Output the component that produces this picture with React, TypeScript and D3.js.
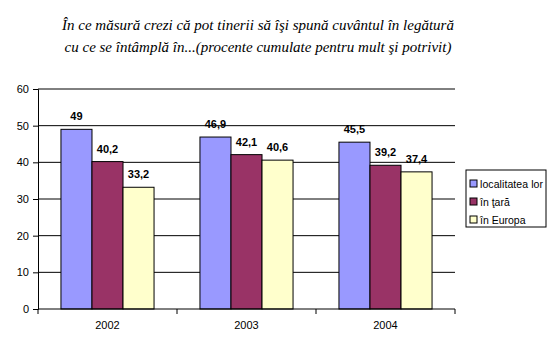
import React, { useEffect, useRef } from 'react';
import * as d3 from 'd3';

const years = ['2002', '2003', '2004'];
const seriesNames = ['localitatea lor', 'în ţară', 'în Europa'];
const localitate = [49, 46.9, 45.5];
const tara = [40.2, 42.1, 39.2];
const europa = [33.2, 40.6, 37.4];
const yTicks = [0, 10, 20, 30, 40, 50, 60];
const colors = ['#9999FF', '#993366', '#FFFFCC'];
const titleLines = [
  'În ce măsură crezi că pot tinerii să îşi spună cuvântul în legătură',
  'cu ce se întâmplă în...(procente cumulate pentru mult şi potrivit)',
];

const App = () => {
  const ref = useRef<SVGSVGElement>(null);

  useEffect(() => {
    const svg = d3.select(ref.current);
    svg.selectAll('*').remove();

    const left = 38, right = 455, top = 89, bottom = 309;
    const series = [localitate, tara, europa];

    svg.selectAll('text.title')
      .data(titleLines)
      .enter()
      .append('text')
      .attr('class', 'title')
      .attr('x', 258)
      .attr('y', (_, i) => 30 + i * 22)
      .attr('text-anchor', 'middle')
      .style('font-family', '"Liberation Serif", serif')
      .style('font-style', 'italic')
      .style('font-size', '15px')
      .text((d) => d);

    const x = d3.scaleBand().domain(years).range([left, right]);
    const y = d3.scaleLinear().domain([0, 60]).range([bottom, top]);
    const inner = d3.scaleBand()
      .domain(seriesNames)
      .range([0, x.bandwidth()])
      .paddingOuter(0.74);

    // gridlines
    svg.append('g')
      .selectAll('line')
      .data(yTicks.filter((t) => t > 0))
      .enter()
      .append('line')
      .attr('x1', left)
      .attr('x2', right)
      .attr('y1', (d) => y(d))
      .attr('y2', (d) => y(d))
      .attr('stroke', '#000');

    // bars
    series.forEach((vals, si) => {
      const g = svg.append('g');
      g.selectAll('rect')
        .data(vals)
        .enter()
        .append('rect')
        .attr('x', (_, i) => x(years[i])! + inner(seriesNames[si])!)
        .attr('y', (d) => y(d))
        .attr('width', inner.bandwidth())
        .attr('height', (d) => bottom - y(d))
        .attr('fill', colors[si])
        .attr('stroke', '#000')
        .attr('stroke-width', 1);
      g.selectAll('text')
        .data(vals)
        .enter()
        .append('text')
        .attr('x', (_, i) => x(years[i])! + inner(seriesNames[si])! + inner.bandwidth() / 2)
        .attr('y', (d) => y(d) - 9)
        .attr('text-anchor', 'middle')
        .style('font-family', '"Liberation Sans", Arial, sans-serif')
        .style('font-size', '11px')
        .style('font-weight', 'bold')
        .text((d) => String(d).replace('.', ','));
    });

    // y axis
    const yAxis = svg.append('g')
      .attr('transform', `translate(${left},0)`)
      .call(d3.axisLeft(y).tickValues(yTicks).tickSize(5).tickPadding(4));
    yAxis.select('.domain').attr('stroke', '#000');
    yAxis.selectAll('text')
      .style('font-family', '"Liberation Sans", Arial, sans-serif')
      .style('font-size', '11px');

    // x axis
    const xAxis = svg.append('g').attr('transform', `translate(0,${bottom})`);
    xAxis.append('line')
      .attr('x1', left)
      .attr('x2', right)
      .attr('stroke', '#000');
    xAxis.selectAll('line.tick')
      .data([...years.map((yr) => x(yr)!), right])
      .enter()
      .append('line')
      .attr('class', 'tick')
      .attr('x1', (d) => d)
      .attr('x2', (d) => d)
      .attr('y1', 0)
      .attr('y2', 5)
      .attr('stroke', '#000');
    xAxis.selectAll('text')
      .data(years)
      .enter()
      .append('text')
      .attr('x', (d) => x(d)! + x.bandwidth() / 2)
      .attr('y', 20)
      .attr('text-anchor', 'middle')
      .style('font-family', '"Liberation Sans", Arial, sans-serif')
      .style('font-size', '11px')
      .text((d) => d);

    // legend
    const lg = svg.append('g').attr('transform', 'translate(466,170)');
    lg.append('rect')
      .attr('width', 80)
      .attr('height', 57)
      .attr('fill', '#fff')
      .attr('stroke', '#000');
    seriesNames.forEach((name, i) => {
      lg.append('rect')
        .attr('x', 4)
        .attr('y', 10 + i * 18)
        .attr('width', 7)
        .attr('height', 7)
        .attr('fill', colors[i])
        .attr('stroke', '#000');
      lg.append('text')
        .attr('x', 14)
        .attr('y', 18 + i * 18)
        .style('font-family', '"Liberation Sans", Arial, sans-serif')
        .style('font-size', '10.5px')
        .attr('textLength', i === 0 ? 63 : null)
        .text(name);
    });
  }, []);

  return (
    <svg ref={ref} width={557} height={352} style={{ position: 'absolute', left: 0, top: 0 }} />
  );
};

export default App;
